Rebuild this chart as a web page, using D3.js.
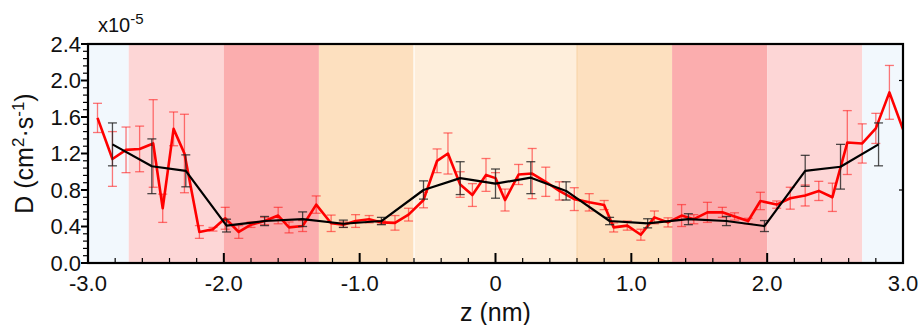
<!DOCTYPE html>
<html>
<head>
<meta charset="utf-8">
<script src="https://cdn.jsdelivr.net/npm/d3@7"></script>
<style>
  body { margin: 0; background: #fff; }
  svg text { font-family: "Liberation Sans", Arial, Helvetica, sans-serif; fill: #111; }
</style>
</head>
<body>
<div id="canvas"></div>
<script>
// region edges along z (nm) for the shaded background
const bandEdges = [-3.0, -2.7, -2.0, -1.3, -0.6, 0.6, 1.3, 2.0, 2.7, 3.0];
const bandColors = ["#f2f8fd", "#fdd6d6", "#fbadae", "#fde0bf", "#feeedb", "#fde0bf", "#fbadae", "#fdd6d6", "#f2f8fd"];

// red series (fine sampling), D in units of 1e-5 cm^2/s
const redZ = [-2.93, -2.82, -2.72, -2.62, -2.52, -2.45, -2.37, -2.29, -2.18, -2.08,
  -1.99, -1.89, -1.80, -1.70, -1.60, -1.52, -1.42, -1.32, -1.21, -1.12,
  -1.03, -0.93, -0.84, -0.74, -0.64, -0.53, -0.43, -0.35, -0.26, -0.17,
  -0.07, 0.00, 0.07, 0.17, 0.27, 0.37, 0.47, 0.58, 0.69, 0.80,
  0.87, 0.97, 1.07, 1.17, 1.27, 1.37, 1.46, 1.56, 1.67, 1.76,
  1.86, 1.95, 2.07, 2.17, 2.28, 2.38, 2.48, 2.59, 2.70, 2.80,
  2.90, 3.00];
const redD = [1.59, 1.14, 1.24, 1.25, 1.31, 0.60, 1.47, 1.20, 0.34, 0.37,
  0.49, 0.34, 0.42, 0.46, 0.52, 0.39, 0.405, 0.64, 0.435, 0.42,
  0.46, 0.48, 0.445, 0.44, 0.53, 0.69, 1.12, 1.20, 0.86, 0.745,
  0.965, 0.93, 0.69, 0.97, 0.98, 0.89, 0.79, 0.70, 0.665, 0.635,
  0.39, 0.41, 0.31, 0.50, 0.445, 0.52, 0.48, 0.555, 0.555, 0.51,
  0.46, 0.68, 0.64, 0.71, 0.74, 0.79, 0.72, 1.32, 1.31, 1.475,
  1.87, 1.465];
const redErr = [0.16, 0.30, 0.25, 0.25, 0.48, 0.155, 0.185, 0.43, 0.07, 0.02,
  0.12, 0.07, 0.03, 0.04, 0.09, 0.06, 0.06, 0.095, 0.09, 0.03,
  0.07, 0.04, 0.02, 0.08, 0.07, 0.085, 0.13, 0.225, 0.14, 0.125,
  0.18, 0.06, 0.12, 0.11, 0.275, 0.16, 0.10, 0.125, 0.095, 0.05,
  0.05, 0.05, 0.06, 0.07, 0.05, 0.12, 0.05, 0.11, 0.055, 0.04,
  0.03, 0.095, 0.04, 0.12, 0.115, 0.105, 0.155, 0.35, 0.215, 0.165,
  0.295, 0];

// black series (coarse sampling)
const blackZ = [-2.82, -2.53, -2.28, -1.98, -1.70, -1.42, -1.12, -0.84, -0.53, -0.26, 0.00,
  0.26, 0.52, 0.84, 1.12, 1.42, 1.70, 1.98, 2.28, 2.54, 2.82];
const blackD = [1.30, 1.06, 1.01, 0.41, 0.46, 0.48, 0.43, 0.46, 0.80, 0.93, 0.87,
  0.935, 0.79, 0.46, 0.435, 0.48, 0.46, 0.405, 1.01, 1.055, 1.30];
const blackErr = [0.235, 0.30, 0.175, 0.07, 0.05, 0.08, 0.04, 0.04, 0.10, 0.18, 0.16,
  0.175, 0.10, 0.04, 0.05, 0.06, 0.05, 0.06, 0.17, 0.245, 0.235];

const xTicks = [-3, -2, -1, 0, 1, 2, 3];
const xTickLabels = ["-3.0", "-2.0", "-1.0", "0", "1.0", "2.0", "3.0"];
const yTicks = [0, 0.4, 0.8, 1.2, 1.6, 2.0, 2.4];
const yTickLabels = ["0.0", "0.4", "0.8", "1.2", "1.6", "2.0", "2.4"];
const yRightTicks = [0.8, 2.0];

const margin = {top: 44, right: 16, bottom: 62, left: 88},
    width = 919 - margin.left - margin.right,
    height = 325 - margin.top - margin.bottom;

const svg = d3.select("#canvas")
    .append("svg")
    .attr("width", 919)
    .attr("height", 325)
    .append("g")
    .attr("transform", "translate(" + margin.left + "," + margin.top + ")");

const x = d3.scaleLinear().domain([-3, 3]).range([0, width]);
const y = d3.scaleLinear().domain([0, 2.4]).range([height, 0]);

svg.append("defs").append("clipPath").attr("id", "plotclip")
    .append("rect").attr("width", width).attr("height", height);

// background bands
svg.append("g").selectAll("rect")
    .data(bandColors)
    .join("rect")
    .attr("x", (c, i) => x(bandEdges[i]))
    .attr("y", 0)
    .attr("width", (c, i) => x(bandEdges[i + 1]) - x(bandEdges[i]))
    .attr("height", height)
    .attr("fill", c => c);

// thin separators seen in the picture
svg.append("line").attr("x1", x(-0.6)).attr("x2", x(-0.6)).attr("y1", 0).attr("y2", height)
    .attr("stroke", "#ffffff").attr("stroke-width", 1.2);
svg.append("line").attr("x1", x(0.6)).attr("x2", x(0.6)).attr("y1", 0).attr("y2", height)
    .attr("stroke", "#f8d2a4").attr("stroke-width", 1);

const plot = svg.append("g").attr("clip-path", "url(#plotclip)");

function errorBars(g, zs, ds, es, color, opacity) {
    const cap = 4.5;
    const eg = g.append("g").attr("stroke", color).attr("stroke-opacity", opacity).attr("stroke-width", 1.3);
    zs.forEach((z, i) => {
        if (!es[i]) return;
        const cx = x(z), top = y(ds[i] + es[i]), bot = y(ds[i] - es[i]);
        eg.append("line").attr("x1", cx).attr("x2", cx).attr("y1", top).attr("y2", bot);
        eg.append("line").attr("x1", cx - cap).attr("x2", cx + cap).attr("y1", top).attr("y2", top);
        eg.append("line").attr("x1", cx - cap).attr("x2", cx + cap).attr("y1", bot).attr("y2", bot);
    });
}

const line = d3.line().x(d => x(d[0])).y(d => y(d[1]));

errorBars(plot, redZ, redD, redErr, "#ff2020", 0.6);
plot.append("path")
    .datum(redZ.map((z, i) => [z, redD[i]]))
    .attr("d", line)
    .attr("fill", "none")
    .attr("stroke", "#ff0000")
    .attr("stroke-width", 2.6)
    .attr("stroke-linejoin", "round");

errorBars(plot, blackZ, blackD, blackErr, "#222222", 0.8);
plot.append("path")
    .datum(blackZ.map((z, i) => [z, blackD[i]]))
    .attr("d", line)
    .attr("fill", "none")
    .attr("stroke", "#000000")
    .attr("stroke-width", 2.2)
    .attr("stroke-linejoin", "round");

// x axis: ticks pointing inward
const xAxisG = svg.append("g");
d3.range(-3, 3.001, 0.2).forEach(t => {
    const major = Math.abs(t - Math.round(t)) < 1e-6;
    xAxisG.append("line")
        .attr("x1", x(t)).attr("x2", x(t))
        .attr("y1", height).attr("y2", height - (major ? 10 : 5))
        .attr("stroke", "#000").attr("stroke-width", major ? 2 : 1.2);
});
xAxisG.selectAll("text")
    .data(xTicks)
    .join("text")
    .attr("x", d => x(d))
    .attr("y", height + 28)
    .attr("text-anchor", "middle")
    .style("font-size", "22px")
    .text((d, i) => xTickLabels[i]);

// y axis: ticks pointing outward
const yAxisG = svg.append("g");
d3.range(0, 2.4001, 0.08).forEach(t => {
    const major = Math.abs(t / 0.4 - Math.round(t / 0.4)) < 1e-6;
    yAxisG.append("line")
        .attr("x1", 0).attr("x2", major ? -7 : -5)
        .attr("y1", y(t)).attr("y2", y(t))
        .attr("stroke", "#000").attr("stroke-width", major ? 2 : 1.2);
});
yAxisG.selectAll("text")
    .data(yTicks)
    .join("text")
    .attr("x", -7)
    .attr("y", d => y(d))
    .attr("dy", "0.36em")
    .attr("text-anchor", "end")
    .style("font-size", "22px")
    .text((d, i) => yTickLabels[i]);

// right side ticks
svg.append("g").selectAll("line")
    .data(yRightTicks)
    .join("line")
    .attr("x1", width).attr("x2", width - 4)
    .attr("y1", d => y(d)).attr("y2", d => y(d))
    .attr("stroke", "#000").attr("stroke-width", 1.2);

// frame
svg.append("rect")
    .attr("width", width).attr("height", height)
    .attr("fill", "none").attr("stroke", "#000").attr("stroke-width", 2.2);

// scale factor label
const sf = svg.append("text")
    .attr("x", 10)
    .attr("y", -12)
    .style("font-size", "20px");
sf.append("tspan").text("x10");
sf.append("tspan").attr("dy", -8).style("font-size", "15px").text("-5");

// axis titles
svg.append("text")
    .attr("x", width / 2)
    .attr("y", height + 58)
    .attr("text-anchor", "middle")
    .style("font-size", "25px")
    .text("z (nm)");

const yt = svg.append("text")
    .attr("transform", "translate(" + (-55) + "," + (height / 2) + ") rotate(-90)")
    .attr("text-anchor", "middle")
    .style("font-size", "25px");
yt.append("tspan").text("D (cm");
yt.append("tspan").attr("dy", -9).style("font-size", "17px").text("2");
yt.append("tspan").attr("dy", 9).text("·s");
yt.append("tspan").attr("dy", -9).style("font-size", "17px").text("-1");
yt.append("tspan").attr("dy", 9).text(")");
</script>
</body>
</html>
